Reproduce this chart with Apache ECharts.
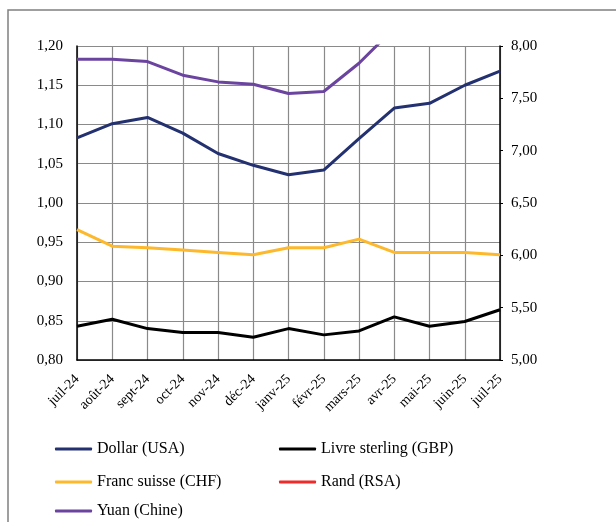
<!DOCTYPE html>
<html>
<head>
<meta charset="utf-8">
<script src="https://cdn.jsdelivr.net/npm/echarts@6/dist/echarts.min.js"></script>
<style>html,body{margin:0;padding:0;background:#fff}#c{width:616px;height:522px}</style>
</head>
<body>
<div id="c"></div>
<script>
const categories = ['juil-24','août-24','sept-24','oct-24','nov-24','déc-24','janv-25','févr-25','mars-25','avr-25','mai-25','juin-25','juil-25'];
const dollar = [1.083,1.101,1.109,1.089,1.063,1.048,1.036,1.042,1.082,1.121,1.127,1.150,1.168];
const livre = [0.843,0.852,0.840,0.835,0.835,0.829,0.840,0.832,0.837,0.855,0.843,0.849,0.864];
const franc = [0.966,0.945,0.943,0.940,0.937,0.934,0.943,0.943,0.954,0.937,0.937,0.937,0.934];
const rand = [19.8,19.9,19.6,19.2,19.2,19.4,19.6,19.3,19.8,21.0,20.3,20.3,20.7];
const yuan = [7.873,7.873,7.851,7.721,7.657,7.635,7.546,7.565,7.835,8.17,8.17,8.25,8.40];
const leftTicks = {min:0.80,max:1.20,interval:0.05};
const rightTicks = {min:5.00,max:8.00,interval:0.50};

const font = 'Liberation Serif';
const chart = echarts.init(document.getElementById('c'));
const fmt = v => v.toFixed(2).replace('.', ',');
function ser(name, data, color, yIdx){
  return {name, type:'line', data, yAxisIndex:yIdx, symbol:'none', clip:true,
    lineStyle:{color, width:3}, itemStyle:{color}};
}
function leg(name, left, cy){
  return {data:[name], orient:'horizontal', left, top:cy-9,
     icon:'roundRect', itemWidth:37, itemHeight:3, padding:0,
     textStyle:{fontFamily:font, fontSize:16, color:'#000', lineHeight:18}};
}
chart.setOption({
  animation:false,
  textStyle:{fontFamily:font},
  grid:{left:77, right:116, top:46, bottom:162, containLabel:false},
  xAxis:{type:'category', data:categories, boundaryGap:false,
    axisLine:{lineStyle:{color:'#000', width:1.5}},
    axisTick:{show:false},
    splitLine:{show:true, lineStyle:{color:'#8a8a8a', width:1.2}},
    axisLabel:{rotate:45, color:'#000', fontFamily:font, fontSize:14, margin:17, interval:0}},
  yAxis:[
    {type:'value', min:leftTicks.min, max:leftTicks.max, interval:leftTicks.interval, position:'left',
     axisLine:{show:true, lineStyle:{color:'#000', width:1.5}}, axisTick:{show:false},
     splitLine:{show:true, lineStyle:{color:'#8a8a8a', width:1.2}},
     axisLabel:{formatter:fmt, color:'#000', fontFamily:font, fontSize:15, margin:14}},
    {type:'value', min:rightTicks.min, max:rightTicks.max, interval:rightTicks.interval, position:'right',
     axisLine:{show:true, lineStyle:{color:'#000', width:1.5}}, axisTick:{show:true, length:3, lineStyle:{color:'#000'}},
     splitLine:{show:false},
     axisLabel:{formatter:fmt, color:'#000', fontFamily:font, fontSize:15, margin:11}}
  ],
  legend:[
    leg('Dollar (USA)', 55, 449),
    leg('Franc suisse (CHF)', 55, 482),
    leg('Yuan (Chine)', 55, 511),
    leg('Livre sterling (GBP)', 279, 449),
    leg('Rand (RSA)', 279, 482)
  ],
  graphic:[
    {type:'polyline', shape:{points:[[8,522],[8,10],[616,10]]}, style:{stroke:'#808080', lineWidth:1.5, fill:null}, silent:true}
  ],
  series:[
    ser('Dollar (USA)', dollar, '#233170', 0),
    ser('Livre sterling (GBP)', livre, '#000000', 0),
    ser('Franc suisse (CHF)', franc, '#FDB92B', 0),
    ser('Rand (RSA)', rand, '#EE2A2A', 1),
    ser('Yuan (Chine)', yuan, '#6B44A0', 1)
  ]
});
</script>
</body>
</html>
